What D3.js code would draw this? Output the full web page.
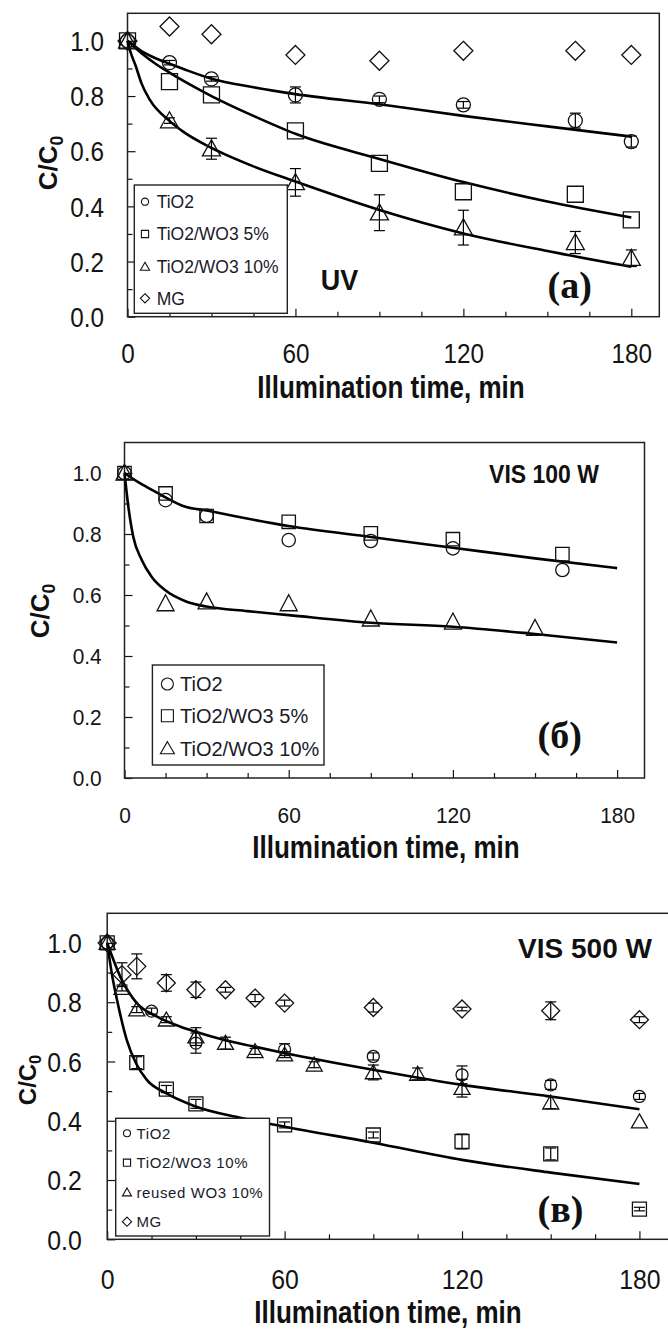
<!DOCTYPE html>
<html><head><meta charset="utf-8">
<script src="https://cdn.jsdelivr.net/npm/d3@7"></script>
<style>body{margin:0;background:#fff;} svg{display:block;}</style>
</head><body>
<svg id="chart" width="668" height="1329"></svg>
<script>
// ---------- tick labels ----------
const xTickValues = [0,15,30,45,60,75,90,105,120,135,150,165,180];
const xTickLabels = [0,60,120,180];
const yTickValues = [0,0.1,0.2,0.3,0.4,0.5,0.6,0.7,0.8,0.9,1.0];
const yTickLabels = [0,0.2,0.4,0.6,0.8,1.0];

// ---------- panel (a) UV ----------
const A_time = [0,15,30,60,90,120,160,180];
const A_TiO2 = [1.0,0.921,0.862,0.804,0.788,0.768,0.711,0.635];
const A_TiO2_err = [0,0.008,0.008,0.029,0.012,0.012,0.027,0.02];
const A_W5 = [1.0,0.852,0.804,0.674,0.556,0.453,0.444,0.351];
const A_W5_err = [0,0,0,0,0,0,0,0];
const A_W10 = [1.0,0.711,0.609,0.487,0.377,0.323,0.269,0.212];
const A_W10_err = [0,0.01,0.038,0.05,0.065,0.063,0.04,0.03];
const A_MG = [1.0,1.052,1.024,0.949,0.928,0.964,0.964,0.949];
const A_MG_err = [0,0,0,0,0,0,0,0];
const A_fit_t = [0,5,10,15,20,30,45,60,90,120,150,180];
const A_fit_TiO2 = [1.0,0.963,0.937,0.917,0.898,0.863,0.832,0.807,0.77,0.728,0.69,0.653];
const A_fit_W5 = [1.0,0.955,0.917,0.885,0.855,0.8,0.728,0.663,0.572,0.488,0.418,0.36];
const A_fit_W10_t = [0,1,3,5,8,15,20,30,45,60,90,120,150,180];
const A_fit_W10 = [1.0,0.962,0.907,0.846,0.786,0.71,0.67,0.612,0.545,0.49,0.387,0.302,0.238,0.181];

// ---------- panel (б) VIS 100 W ----------
const B_time = [0,15,30,60,90,120,160];
const B_TiO2 = [1.0,0.911,0.86,0.78,0.777,0.753,0.682];
const B_W5 = [1.0,0.933,0.859,0.84,0.802,0.783,0.734];
const B_time_W10 = [0,15,30,60,90,120,150];
const B_W10 = [1.0,0.572,0.578,0.572,0.522,0.512,0.491];
const B_fit_up_t = [0,5,10,15,22,30,40,60,90,120,150,180];
const B_fit_up = [1.0,0.97,0.945,0.92,0.89,0.877,0.859,0.826,0.79,0.755,0.72,0.688];
const B_fit_low_t = [0,1.4,3.2,6.3,9.9,14.8,22.7,30,45,60,90,120,150,180];
const B_fit_low = [1.0,0.89,0.791,0.715,0.66,0.616,0.578,0.562,0.547,0.534,0.509,0.496,0.472,0.444];

// ---------- panel (в) VIS 500 W ----------
const C_time_TiO2 = [0,15,30,60,90,120,150,180];
const C_TiO2 = [1.0,0.77,0.662,0.64,0.617,0.555,0.521,0.482];
const C_TiO2_err = [0,0.01,0.034,0.02,0.012,0.03,0.015,0.01];
const C_time_W10 = [0,10,20,30,60,90,120,150,180];
const C_W10 = [1.0,0.596,0.507,0.457,0.386,0.352,0.33,0.288,0.102];
const C_W10_err = [0,0.02,0.012,0.015,0.01,0.01,0.025,0.02,0.006];
const C_time_re = [0,5,10,20,30,40,50,60,70,90,105,120,150,180];
const C_re = [1.0,0.848,0.775,0.741,0.684,0.662,0.634,0.623,0.589,0.563,0.558,0.51,0.461,0.397];
const C_re_err = [0,0.01,0.01,0.01,0.03,0.02,0.01,0.01,0.01,0.025,0.02,0.03,0.02,0];
const C_time_MG = [0,5,10,20,30,40,50,60,90,120,150,180];
const C_MG = [1.0,0.893,0.921,0.865,0.842,0.842,0.814,0.797,0.782,0.777,0.771,0.741];
const C_MG_err = [0,0.04,0.042,0.028,0.026,0.008,0.012,0.01,0.015,0.006,0.03,0.01];
const C_fit_up_t = [0,4.9,10,16.7,24.6,29.7,39.3,49.4,60.2,90,120,150,180];
const C_fit_up = [1.0,0.876,0.797,0.752,0.718,0.701,0.673,0.651,0.628,0.572,0.521,0.482,0.439];
const C_fit_low_t = [0,1.5,3.8,6.6,9.7,13.4,19.9,29.4,45,60,90,120,150,180];
const C_fit_low = [1.0,0.9,0.786,0.673,0.595,0.538,0.493,0.45,0.41,0.38,0.326,0.268,0.225,0.187];

const SANS = "'Liberation Sans', Arial, sans-serif";
const SERIF = "'Liberation Serif', 'Times New Roman', serif";
const INK = "#141414";

const zip = (t, v, e) => t.map((d, i) => ({t: d, v: v[i], e: e ? e[i] : 0}));

const panels = [
  {
    left: 127.5, right: 659.3, top: 13.3, bottom: 316.7,
    tickFont: 27, tickSx: 0.9, xLabOff: 46.5, yGap: 23.5,
    title: {cx: 391, y: 397.5}, yTitle: {cx: 48, cy: 163, fs: 26},
    ms: {circle: 7, square: 8, tri: [9, 16], diamond: 9.5},
    series: [
      {type: "circle", data: zip(A_time, A_TiO2, A_TiO2_err)},
      {type: "square", data: zip(A_time, A_W5, A_W5_err)},
      {type: "tri", data: zip(A_time, A_W10, A_W10_err)},
      {type: "diamond", data: zip(A_time, A_MG, A_MG_err)}
    ],
    fits: [zip(A_fit_t, A_fit_TiO2), zip(A_fit_t, A_fit_W5), zip(A_fit_W10_t, A_fit_W10)],
    legend: {x0: 134.3, y0: 185, x1: 287.3, y1: 313.3, sx: 145, tx: 156.7, fs: 17.5, ls: 0,
      ms: {circle: 3.6, square: 3.6, tri: [4.6, 8], diamond: 4.6},
      items: [{type: "circle", y: 201.7, label: "TiO2"}, {type: "square", y: 234, label: "TiO2/WO3 5%"},
              {type: "tri", y: 266.7, label: "TiO2/WO3 10%"}, {type: "diamond", y: 298.3, label: "MG"}]},
    notes: [
      {text: "UV", x: 320.7, y: 290, fs: 30, sx: 0.9, anchor: "start", font: SANS},
      {text: "(a)", x: 569.7, y: 298, fs: 38, sx: 1, anchor: "middle", font: SERIF}
    ]
  },
  {
    left: 124.5, right: 644.5, top: 442.5, bottom: 778,
    tickFont: 22, tickSx: 0.95, xLabOff: 45, yGap: 22.8,
    title: {cx: 386, y: 858.3}, yTitle: {cx: 40, cy: 611, fs: 26},
    ms: {circle: 6.7, square: 6.7, tri: [8.5, 16], diamond: 9},
    series: [
      {type: "circle", data: zip(B_time, B_TiO2)},
      {type: "square", data: zip(B_time, B_W5)},
      {type: "tri", data: zip(B_time_W10, B_W10)}
    ],
    fits: [zip(B_fit_up_t, B_fit_up), zip(B_fit_low_t, B_fit_low)],
    legend: {x0: 152.4, y0: 665, x1: 324, y1: 765, sx: 167.4, tx: 180, fs: 20, ls: 0,
      ms: {circle: 6, square: 6, tri: [7, 12], diamond: 6},
      items: [{type: "circle", y: 684, label: "TiO2"}, {type: "square", y: 715.7, label: "TiO2/WO3 5%"},
              {type: "tri", y: 748.3, label: "TiO2/WO3 10%"}]},
    notes: [
      {text: "VIS 100 W", x: 544, y: 483, fs: 25, sx: 0.92, anchor: "middle", font: SANS},
      {text: "(б)", x: 559.7, y: 748, fs: 38, sx: 1, anchor: "middle", font: SERIF}
    ]
  },
  {
    left: 107.2, right: 669, top: 913.3, bottom: 1239.3,
    tickFont: 27, tickSx: 0.92, xLabOff: 49.5, yGap: 25.5,
    title: {cx: 388, y: 1323}, yTitle: {cx: 27, cy: 1080, fs: 24},
    ms: {circle: 6, square: 7, tri: [8, 14], diamond: 9},
    series: [
      {type: "circle", data: zip(C_time_TiO2, C_TiO2, C_TiO2_err)},
      {type: "square", data: zip(C_time_W10, C_W10, C_W10_err)},
      {type: "tri", data: zip(C_time_re, C_re, C_re_err)},
      {type: "diamond", data: zip(C_time_MG, C_MG, C_MG_err)}
    ],
    fits: [zip(C_fit_up_t, C_fit_up), zip(C_fit_low_t, C_fit_low)],
    legend: {x0: 115.7, y0: 1118.3, x1: 269.5, y1: 1236, sx: 127, tx: 136.5, fs: 15, ls: 0.6,
      ms: {circle: 3.5, square: 3.6, tri: [4.5, 8], diamond: 4.6},
      items: [{type: "circle", y: 1133.3, label: "TiO2"}, {type: "square", y: 1162.7, label: "TiO2/WO3 10%"},
              {type: "tri", y: 1192.3, label: "reused WO3 10%"}, {type: "diamond", y: 1221.7, label: "MG"}]},
    notes: [
      {text: "VIS 500 W", x: 585, y: 958, fs: 28, sx: 1, anchor: "middle", font: SANS},
      {text: "(в)", x: 560.5, y: 1222, fs: 38, sx: 1, anchor: "middle", font: SERIF}
    ]
  }
];

function markerPath(type, ms) {
  if (type === "circle") { const r = ms.circle; return `M${-r},0A${r},${r} 0 1,0 ${r},0A${r},${r} 0 1,0 ${-r},0Z`; }
  if (type === "square") { const s = ms.square; return `M${-s},${-s}H${s}V${s}H${-s}Z`; }
  if (type === "tri") { const w = ms.tri[0], h = ms.tri[1]; return `M0,${-h*0.55}L${w},${h*0.45}L${-w},${h*0.45}Z`; }
  const d = ms.diamond; return `M0,${-d}L${d},0L0,${d}L${-d},0Z`;
}

const svg = d3.select("#chart");
svg.append("rect").attr("width", 668).attr("height", 1329).attr("fill", "#fff");
const fmt = d3.format(".1f");

panels.forEach(p => {
  const x = d3.scaleLinear().domain([0, 190]).range([p.left, p.right]);
  const y = d3.scaleLinear().domain([0, 1.1]).range([p.bottom, p.top]);
  const g = svg.append("g");

  // x axis (ticks inward)
  const xa = g.append("g").attr("transform", `translate(0,${p.bottom})`)
    .call(d3.axisBottom(x).tickValues(xTickValues).tickSizeInner(-8).tickSizeOuter(0)
      .tickFormat(d => xTickLabels.includes(d) ? String(d) : ""));
  xa.select(".domain").remove();
  xa.selectAll(".tick line").attr("y2", d => xTickLabels.includes(d) ? -8 : -5)
    .attr("stroke", INK).attr("stroke-width", 1.2);
  xa.selectAll(".tick text").attr("y", p.xLabOff).attr("dy", null)
    .attr("font-size", p.tickFont).attr("font-family", SANS).attr("fill", INK)
    .attr("transform", `scale(${p.tickSx},1)`);

  // y axis
  const ya = g.append("g").attr("transform", `translate(${p.left},0)`)
    .call(d3.axisLeft(y).tickValues(yTickValues).tickSizeInner(-8).tickSizeOuter(0)
      .tickFormat(d => yTickLabels.some(v => Math.abs(v - d) < 1e-6) ? fmt(d) : ""));
  ya.select(".domain").remove();
  ya.selectAll(".tick line").attr("x2", d => yTickLabels.some(v => Math.abs(v - d) < 1e-6) ? 8 : 5)
    .attr("stroke", INK).attr("stroke-width", 1.2);
  ya.selectAll(".tick text").attr("x", -p.yGap / p.tickSx).attr("dy", "0.36em")
    .attr("font-size", p.tickFont).attr("font-family", SANS).attr("fill", INK)
    .attr("transform", `scale(${p.tickSx},1)`);

  // frame
  g.append("rect").attr("x", p.left).attr("y", p.top)
    .attr("width", p.right - p.left).attr("height", p.bottom - p.top)
    .attr("fill", "none").attr("stroke", "#222").attr("stroke-width", 1.5);

  // fits
  const line = d3.line().x(d => x(d.t)).y(d => y(d.v)).curve(d3.curveMonotoneX);
  p.fits.forEach(f => {
    g.append("path").attr("d", line(f)).attr("fill", "none")
      .attr("stroke", "#000").attr("stroke-width", 2.6).attr("stroke-linejoin", "round");
  });

  // series markers + error bars
  p.series.forEach(s => {
    const sg = g.append("g");
    s.data.filter(d => d.e > 0).forEach(d => {
      const cx = x(d.t);
      sg.append("line").attr("x1", cx).attr("x2", cx).attr("y1", y(d.v - d.e)).attr("y2", y(d.v + d.e))
        .attr("stroke", "#000").attr("stroke-width", 1.2);
      [d.v - d.e, d.v + d.e].forEach(v => {
        sg.append("line").attr("x1", cx - 5.5).attr("x2", cx + 5.5).attr("y1", y(v)).attr("y2", y(v))
          .attr("stroke", "#000").attr("stroke-width", 1.2);
      });
    });
    sg.selectAll("path.m").data(s.data).enter().append("path").attr("class", "m")
      .attr("d", markerPath(s.type, p.ms))
      .attr("transform", d => `translate(${x(d.t)},${y(d.v)})`)
      .attr("fill", "none").attr("stroke", "#111").attr("stroke-width", 1.3);
  });

  // legend
  const L = p.legend;
  const lg = g.append("g");
  lg.append("rect").attr("x", L.x0).attr("y", L.y0).attr("width", L.x1 - L.x0).attr("height", L.y1 - L.y0)
    .attr("fill", "#fff").attr("stroke", "#222").attr("stroke-width", 1.4);
  L.items.forEach(it => {
    lg.append("path").attr("d", markerPath(it.type, L.ms))
      .attr("transform", `translate(${L.sx},${it.y})`)
      .attr("fill", "none").attr("stroke", "#111").attr("stroke-width", 1.1);
    lg.append("text").attr("x", L.tx).attr("y", it.y).attr("dy", "0.36em")
      .attr("font-family", SANS).attr("font-size", L.fs).attr("letter-spacing", L.ls)
      .attr("fill", "#1a1a2a").text(it.label);
  });

  // notes
  p.notes.forEach(n => {
    g.append("text").attr("transform", `translate(${n.x},${n.y}) scale(${n.sx},1)`)
      .attr("text-anchor", n.anchor).attr("font-family", n.font).attr("font-weight", "bold")
      .attr("font-size", n.fs).attr("fill", "#111").text(n.text);
  });

  // axis titles
  g.append("text").attr("transform", `translate(${p.title.cx},${p.title.y}) scale(0.84,1)`)
    .attr("text-anchor", "middle").attr("font-family", SANS).attr("font-weight", "bold")
    .attr("font-size", 31).attr("fill", "#111").text("Illumination time, min");

  const yt = g.append("text").attr("transform", `translate(${p.yTitle.cx},${p.yTitle.cy}) rotate(-90)`)
    .attr("text-anchor", "middle").attr("dy", "0.36em").attr("font-family", SANS).attr("font-weight", "bold")
    .attr("font-size", p.yTitle.fs).attr("fill", "#111");
  yt.append("tspan").text("C/C");
  yt.append("tspan").attr("font-size", p.yTitle.fs * 0.68).attr("dy", p.yTitle.fs * 0.22).text("0");
});
</script>
</body></html>
